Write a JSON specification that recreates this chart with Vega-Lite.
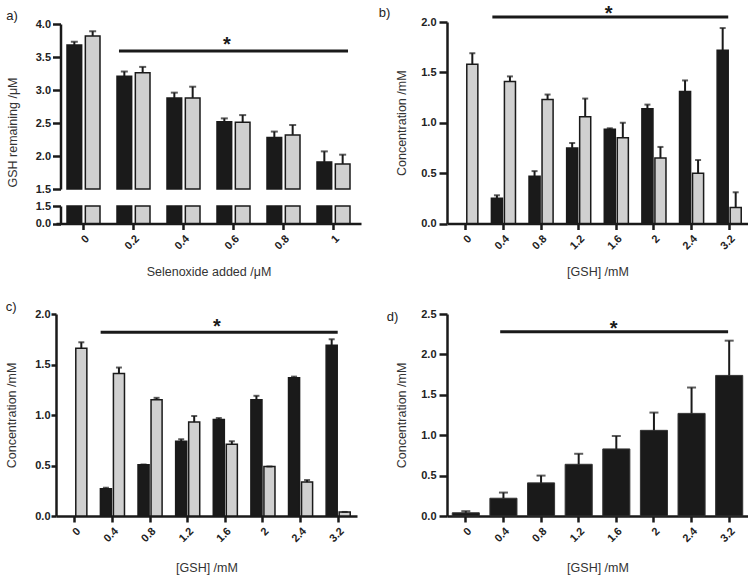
{
  "$schema": "https://vega.github.io/schema/vega-lite/v6.json",
  "padding": {"left": 5, "top": 3, "right": 0, "bottom": 0},
  "config": {
    "view": {"stroke": null},
    "font": "Liberation Sans",
    "axis": {"domainColor": "#1a1a1a", "domainWidth": 2.5, "tickColor": "#1a1a1a", "tickWidth": 2.5, "grid": false,
      "labelFont": "Liberation Sans", "labelFontWeight": "bold", "labelFontSize": 11, "labelColor": "#222",
      "titleFont": "Liberation Sans", "titleFontWeight": "normal", "titleFontSize": 12.5, "titleColor": "#333"},
    "axisX": {"tickSize": 6, "labelAngle": -45, "labelPadding": 3, "titlePadding": 14},
    "axisY": {"tickSize": 8, "labelPadding": 3, "titlePadding": 12},
    "title": {"fontSize": 13, "fontWeight": "normal", "color": "#222", "anchor": "start", "frame": "bounds", "font": "Liberation Sans"}
  },
  "datasets": {
    "a": [
      {"x": "0", "s": "A", "v": 3.68, "e": 3.73}, {"x": "0", "s": "B", "v": 3.82, "e": 3.89},
      {"x": "0.2", "s": "A", "v": 3.21, "e": 3.28}, {"x": "0.2", "s": "B", "v": 3.26, "e": 3.35},
      {"x": "0.4", "s": "A", "v": 2.88, "e": 2.96}, {"x": "0.4", "s": "B", "v": 2.88, "e": 3.05},
      {"x": "0.6", "s": "A", "v": 2.52, "e": 2.57}, {"x": "0.6", "s": "B", "v": 2.51, "e": 2.62},
      {"x": "0.8", "s": "A", "v": 2.28, "e": 2.37}, {"x": "0.8", "s": "B", "v": 2.32, "e": 2.47},
      {"x": "1", "s": "A", "v": 1.91, "e": 2.07}, {"x": "1", "s": "B", "v": 1.88, "e": 2.02}
    ],
    "sa": [{"x1": "0.2", "x2": "1", "y": 3.59, "xs": "0.6", "ys": 3.68, "label": "*"}],
    "b": [
      {"x": "0", "s": "B", "v": 1.58, "e": 1.69},
      {"x": "0.4", "s": "A", "v": 0.25, "e": 0.28}, {"x": "0.4", "s": "B", "v": 1.41, "e": 1.46},
      {"x": "0.8", "s": "A", "v": 0.47, "e": 0.52}, {"x": "0.8", "s": "B", "v": 1.23, "e": 1.28},
      {"x": "1.2", "s": "A", "v": 0.75, "e": 0.80}, {"x": "1.2", "s": "B", "v": 1.06, "e": 1.24},
      {"x": "1.6", "s": "A", "v": 0.935, "e": 0.945}, {"x": "1.6", "s": "B", "v": 0.85, "e": 1.00},
      {"x": "2", "s": "A", "v": 1.14, "e": 1.18}, {"x": "2", "s": "B", "v": 0.65, "e": 0.76},
      {"x": "2.4", "s": "A", "v": 1.31, "e": 1.42}, {"x": "2.4", "s": "B", "v": 0.50, "e": 0.63},
      {"x": "3.2", "s": "A", "v": 1.72, "e": 1.94}, {"x": "3.2", "s": "B", "v": 0.16, "e": 0.31}
    ],
    "sb": [{"x1": "0.4", "x2": "3.2", "y": 2.05, "xs": "1.6", "ys": 2.084, "label": "*"}],
    "c": [
      {"x": "0", "s": "B", "v": 1.66, "e": 1.72},
      {"x": "0.4", "s": "A", "v": 0.27, "e": 0.28}, {"x": "0.4", "s": "B", "v": 1.41, "e": 1.47},
      {"x": "0.8", "s": "A", "v": 0.507, "e": 0.51}, {"x": "0.8", "s": "B", "v": 1.15, "e": 1.17},
      {"x": "1.2", "s": "A", "v": 0.74, "e": 0.76}, {"x": "1.2", "s": "B", "v": 0.93, "e": 0.99},
      {"x": "1.6", "s": "A", "v": 0.955, "e": 0.97}, {"x": "1.6", "s": "B", "v": 0.71, "e": 0.74},
      {"x": "2", "s": "A", "v": 1.15, "e": 1.19}, {"x": "2", "s": "B", "v": 0.49, "e": 0.49},
      {"x": "2.4", "s": "A", "v": 1.37, "e": 1.38}, {"x": "2.4", "s": "B", "v": 0.336, "e": 0.356},
      {"x": "3.2", "s": "A", "v": 1.69, "e": 1.75}, {"x": "3.2", "s": "B", "v": 0.04, "e": 0.04}
    ],
    "sc": [{"x1": "0.4", "x2": "3.2", "y": 1.82, "xs": "1.6", "ys": 1.876, "label": "*"}],
    "d": [
      {"x": "0", "v": 0.04, "e": 0.06}, {"x": "0.4", "v": 0.22, "e": 0.29},
      {"x": "0.8", "v": 0.41, "e": 0.50}, {"x": "1.2", "v": 0.64, "e": 0.77},
      {"x": "1.6", "v": 0.83, "e": 0.99}, {"x": "2", "v": 1.06, "e": 1.28},
      {"x": "2.4", "v": 1.27, "e": 1.59}, {"x": "3.2", "v": 1.74, "e": 2.17}
    ],
    "sd": [{"x1": "0.4", "x2": "3.2", "y": 2.28, "xs": "1.6", "ys": 2.315, "label": "*"}]
  },
  "columns": 2,
  "align": "each",
  "spacing": {"row": 23, "column": 17},
  "resolve": {"scale": {"xOffset": "independent", "x": "independent", "y": "independent"}},
  "concat": [
    {
      "width": 305, "height": 201.5,
      "title": {"text": "a)", "offset": -5},
      "layer": [
        {
          "layer": [
            {
              "data": {"name": "a"},
              "encoding": {
                "x": {"field": "x", "type": "nominal", "scale": {"type": "band", "domain": ["0", "0.2", "0.4", "0.6", "0.8", "1"], "paddingInner": 0.34, "paddingOuter": 0.22}, "axis": {"title": "Selenoxide added /μM"}},
                "xOffset": {"field": "s", "type": "nominal", "scale": {"type": "band", "domain": ["A", "B"], "paddingInner": 0.2, "paddingOuter": 0}},
                "y": {"field": "v", "type": "quantitative", "scale": {"domain": [1.5, 4], "range": [167, 2], "nice": false, "zero": false}, "axis": {"values": [1.5, 2, 2.5, 3, 3.5, 4], "format": ".1f", "title": "GSH remaining /μM", "titleY": 110, "tickSize": 8, "labelPadding": 2, "titlePadding": 16, "offset": -4.5}}
              },
              "layer": [
                {"mark": {"type": "bar", "stroke": "#1a1a1a", "strokeWidth": 1.5}, "encoding": {"y2": {"datum": 1.5}, "color": {"field": "s", "type": "nominal", "scale": {"domain": ["A", "B"], "range": ["#1a1a1a", "#d0d0d0"]}, "legend": null}}},
                {"mark": {"type": "rule", "color": "#1a1a1a", "strokeWidth": 2}, "encoding": {"y2": {"field": "e"}}},
                {"mark": {"type": "tick", "color": "#1a1a1a", "thickness": 2, "size": 7}, "encoding": {"y": {"field": "e", "type": "quantitative"}}}
              ]
            },
            {"data": {"name": "sa"}, "mark": {"type": "rule", "color": "#1a1a1a", "strokeWidth": 3}, "encoding": {"x": {"field": "x1", "type": "nominal", "bandPosition": 0.06, "scale": {"type": "band"}}, "x2": {"field": "x2", "bandPosition": 0.94}, "y": {"field": "y", "type": "quantitative"}}},
            {"data": {"name": "sa"}, "mark": {"type": "text", "fontSize": 20, "fontWeight": "bold", "baseline": "middle", "color": "#1a1a1a"}, "encoding": {"x": {"field": "xs", "type": "nominal", "bandPosition": 0.3, "scale": {"type": "band"}}, "y": {"field": "ys", "type": "quantitative"}, "text": {"field": "label"}}}
          ]
        },
        {
          "data": {"name": "a"},
          "mark": {"type": "bar", "stroke": "#1a1a1a", "strokeWidth": 1.5},
          "encoding": {
            "x": {"field": "x", "type": "nominal", "scale": {"type": "band"}},
            "xOffset": {"field": "s", "type": "nominal"},
            "y": {"field": "v", "type": "quantitative", "scale": {"domain": [0, 1.5], "range": [201.5, 184], "nice": false, "clamp": true}, "axis": {"values": [0, 1.5], "format": ".1f", "title": null, "orient": "left", "tickSize": 8, "labelPadding": 2, "offset": -4.5}},
            "y2": {"datum": 0},
            "color": {"field": "s", "type": "nominal", "scale": {"domain": ["A", "B"], "range": ["#1a1a1a", "#d0d0d0"]}, "legend": null}
          }
        }
      ],
      "resolve": {"scale": {"y": "independent"}, "axis": {"y": "independent"}}
    },
    {
      "width": 301, "height": 201.5,
      "title": {"text": "b)", "offset": -16.5, "dx": -17},
      "layer": [
        {
          "data": {"name": "b"},
          "encoding": {
            "x": {"field": "x", "type": "nominal", "scale": {"type": "band", "domain": ["0", "0.4", "0.8", "1.2", "1.6", "2", "2.4", "3.2"], "paddingInner": 0.36, "paddingOuter": 0.18}, "axis": {"title": "[GSH] /mM"}},
            "xOffset": {"field": "s", "type": "nominal", "scale": {"type": "band", "domain": ["A", "B"], "paddingInner": 0.15, "paddingOuter": 0}},
            "y": {"field": "v", "type": "quantitative", "scale": {"domain": [0, 2], "nice": false}, "axis": {"values": [0, 0.5, 1, 1.5, 2], "format": ".1f", "title": "Concentration /mM"}}
          },
          "layer": [
            {"mark": {"type": "bar", "stroke": "#1a1a1a", "strokeWidth": 1.5}, "encoding": {"y2": {"datum": 0}, "color": {"field": "s", "type": "nominal", "scale": {"domain": ["A", "B"], "range": ["#1a1a1a", "#d0d0d0"]}, "legend": null}}},
            {"mark": {"type": "rule", "color": "#1a1a1a", "strokeWidth": 2}, "encoding": {"y2": {"field": "e"}}},
            {"mark": {"type": "tick", "color": "#1a1a1a", "thickness": 2, "size": 6}, "encoding": {"y": {"field": "e", "type": "quantitative"}}}
          ]
        },
        {"data": {"name": "sb"}, "mark": {"type": "rule", "color": "#1a1a1a", "strokeWidth": 3}, "encoding": {"x": {"field": "x1", "type": "nominal", "bandPosition": 0.04, "scale": {"type": "band"}}, "x2": {"field": "x2", "bandPosition": 0.46}, "y": {"field": "y", "type": "quantitative"}}},
        {"data": {"name": "sb"}, "mark": {"type": "text", "fontSize": 20, "fontWeight": "bold", "baseline": "middle", "color": "#1a1a1a"}, "encoding": {"x": {"field": "xs", "type": "nominal", "bandPosition": 0.18, "scale": {"type": "band"}}, "y": {"field": "ys", "type": "quantitative"}, "text": {"field": "label"}}}
      ]
    },
    {
      "width": 301, "height": 202,
      "title": {"text": "c)", "offset": -6},
      "layer": [
        {
          "data": {"name": "c"},
          "encoding": {
            "x": {"field": "x", "type": "nominal", "scale": {"type": "band", "domain": ["0", "0.4", "0.8", "1.2", "1.6", "2", "2.4", "3.2"], "paddingInner": 0.36, "paddingOuter": 0.18}, "axis": {"title": "[GSH] /mM", "titlePadding": 18}},
            "xOffset": {"field": "s", "type": "nominal", "scale": {"type": "band", "domain": ["A", "B"], "paddingInner": 0.15, "paddingOuter": 0}},
            "y": {"field": "v", "type": "quantitative", "scale": {"domain": [0, 2], "nice": false}, "axis": {"values": [0, 0.5, 1, 1.5, 2], "format": ".1f", "title": "Concentration /mM", "tickSize": 5, "labelPadding": 1, "titlePadding": 16}}
          },
          "layer": [
            {"mark": {"type": "bar", "stroke": "#1a1a1a", "strokeWidth": 1.5}, "encoding": {"y2": {"datum": 0}, "color": {"field": "s", "type": "nominal", "scale": {"domain": ["A", "B"], "range": ["#1a1a1a", "#d0d0d0"]}, "legend": null}}},
            {"mark": {"type": "rule", "color": "#1a1a1a", "strokeWidth": 2}, "encoding": {"y2": {"field": "e"}}},
            {"mark": {"type": "tick", "color": "#1a1a1a", "thickness": 2, "size": 6}, "encoding": {"y": {"field": "e", "type": "quantitative"}}}
          ]
        },
        {"data": {"name": "sc"}, "mark": {"type": "rule", "color": "#1a1a1a", "strokeWidth": 3}, "encoding": {"x": {"field": "x1", "type": "nominal", "bandPosition": 0.01, "scale": {"type": "band"}}, "x2": {"field": "x2", "bandPosition": 0.48}, "y": {"field": "y", "type": "quantitative"}}},
        {"data": {"name": "sc"}, "mark": {"type": "text", "fontSize": 20, "fontWeight": "bold", "baseline": "middle", "color": "#1a1a1a"}, "encoding": {"x": {"field": "xs", "type": "nominal", "bandPosition": 0.15, "scale": {"type": "band"}}, "y": {"field": "ys", "type": "quantitative"}, "text": {"field": "label"}}}
      ]
    },
    {
      "width": 301, "height": 202,
      "title": {"text": "d)", "offset": -16, "dx": -9},
      "layer": [
        {
          "data": {"name": "d"},
          "encoding": {
            "x": {"field": "x", "type": "nominal", "scale": {"type": "band", "domain": ["0", "0.4", "0.8", "1.2", "1.6", "2", "2.4", "3.2"], "paddingInner": 0.28, "paddingOuter": 0.14}, "axis": {"title": "[GSH] /mM", "titlePadding": 18}},
            "y": {"field": "v", "type": "quantitative", "scale": {"domain": [0, 2.5], "nice": false}, "axis": {"values": [0, 0.5, 1, 1.5, 2, 2.5], "format": ".1f", "title": "Concentration /mM"}}
          },
          "layer": [
            {"mark": {"type": "bar", "color": "#1a1a1a", "stroke": "#333", "strokeWidth": 1}},
            {"mark": {"type": "rule", "color": "#1a1a1a", "strokeWidth": 2}, "encoding": {"y2": {"field": "e"}}},
            {"mark": {"type": "tick", "color": "#1a1a1a", "thickness": 2, "size": 9}, "encoding": {"y": {"field": "e", "type": "quantitative"}}}
          ]
        },
        {"data": {"name": "sd"}, "mark": {"type": "rule", "color": "#1a1a1a", "strokeWidth": 3}, "encoding": {"x": {"field": "x1", "type": "nominal", "bandPosition": 0.38, "scale": {"type": "band"}}, "x2": {"field": "x2", "bandPosition": 0.46}, "y": {"field": "y", "type": "quantitative"}}},
        {"data": {"name": "sd"}, "mark": {"type": "text", "fontSize": 20, "fontWeight": "bold", "baseline": "middle", "color": "#1a1a1a"}, "encoding": {"x": {"field": "xs", "type": "nominal", "bandPosition": 0.4, "scale": {"type": "band"}}, "y": {"field": "ys", "type": "quantitative"}, "text": {"field": "label"}}}
      ]
    }
  ]
}
